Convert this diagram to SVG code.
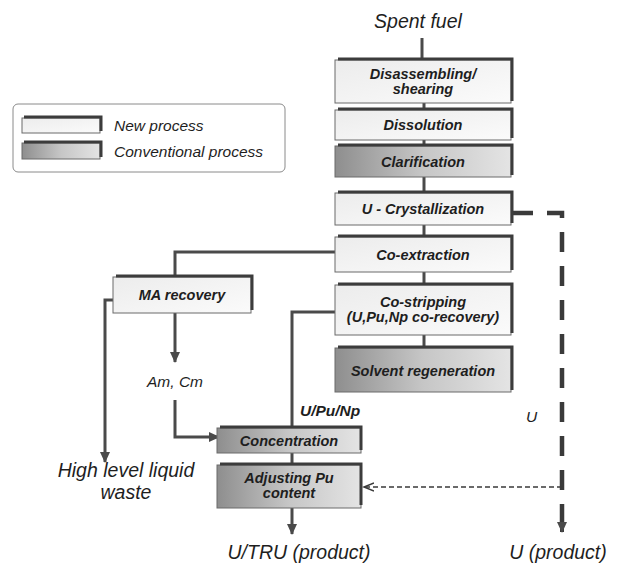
<svg xmlns="http://www.w3.org/2000/svg" width="623" height="566" viewBox="0 0 623 566">
<defs>
<style>
.box{stroke:#6a6a6a;stroke-width:1}
.new{fill:url(#gNew)}
.conv{fill:url(#gConv)}
.sh{fill:none;stroke:#3c3c3c;stroke-width:3}
.bt{font-family:"Liberation Sans",Arial,sans-serif;font-style:italic;font-weight:bold;font-size:14.5px;fill:#1e1e1e;text-anchor:middle}
.lt{font-family:"Liberation Sans",Arial,sans-serif;font-style:italic;font-size:19.5px;fill:#1e1e1e;text-anchor:middle}
.st{font-family:"Liberation Sans",Arial,sans-serif;font-style:italic;font-size:15.5px;fill:#1e1e1e}
.ln{fill:none;stroke:#4a4a4a;stroke-width:3}
.arr{marker-end:url(#ah)}
</style>
<linearGradient id="gNew" x1="0" y1="0" x2="1" y2="1">
<stop offset="0" stop-color="#ececec"/>
<stop offset="1" stop-color="#fbfbfb"/>
</linearGradient>
<linearGradient id="gConv" x1="0" y1="0" x2="1" y2="0">
<stop offset="0" stop-color="#8e8e8e"/>
<stop offset="0.5" stop-color="#c6c6c6"/>
<stop offset="1" stop-color="#e4e4e4"/>
</linearGradient>
<marker id="ah" markerWidth="12" markerHeight="12" refX="10" refY="6" orient="auto" markerUnits="userSpaceOnUse">
<path d="M0,1 L11,6 L0,11 Z" fill="#4a4a4a"/>
</marker>
<marker id="ah2" markerWidth="12" markerHeight="10" refX="10" refY="5" orient="auto" markerUnits="userSpaceOnUse">
<path d="M0,1 L10,5 L0,9" fill="none" stroke="#3a3a3a" stroke-width="1.5"/>
</marker>
</defs>
<rect width="623" height="566" fill="#ffffff"/>

<g id="legend">
<rect x="13" y="104" width="272" height="68" rx="5" fill="#ffffff" stroke="#8a8a8a" stroke-width="1"/>
<rect class="box new" x="22" y="118" width="78" height="15"/>
<path class="sh" d="M24,117 H101 V131"/>
<rect class="box conv" x="22" y="143" width="78" height="16"/>
<path class="sh" d="M24,142 H101 V157"/>
<text class="st" x="114" y="131" font-size="17">New process</text>
<text class="st" x="114" y="157" font-size="17">Conventional process</text>
</g>

<g id="connectors">
<path class="ln" d="M422,38 V58"/>
<path class="ln" d="M424,103 V110"/>
<path class="ln" d="M424,140 V146"/>
<path class="ln" d="M424,177 V193"/>
<path class="ln" d="M424,225 V237"/>
<path class="ln" d="M424,272 V285"/>
<path class="ln" d="M424,335 V348"/>
<path class="ln" d="M335,252 H175 V277"/>
<path class="ln arr" d="M175,313 V362"/>
<path class="ln arr" d="M175,400 V437 H219"/>
<path class="ln arr" d="M113,300 H105 V462"/>
<path class="ln" d="M335,312 H292 V428"/>
<path class="ln" d="M292,453 V465"/>
<path class="ln arr" d="M292,508 V534"/>
<path d="M513,213 H562 V522" fill="none" stroke="#3a3a3a" stroke-width="4.5" stroke-dasharray="20,14"/>
<path d="M562,512 V532" fill="none" stroke="#3a3a3a" stroke-width="4" marker-end="url(#ah)"/>
<path d="M562,487 H364" fill="none" stroke="#3a3a3a" stroke-width="1.5" stroke-dasharray="5,3" marker-end="url(#ah2)"/>
</g>

<g id="spent-fuel"><text class="lt" x="418" y="28" font-size="20">Spent fuel</text></g>

<g id="disassembling">
<rect class="box new" x="335" y="60" width="176" height="43"/>
<path class="sh" d="M338,59 H512 V101"/>
<text class="bt" x="423" y="79">Disassembling/</text>
<text class="bt" x="423" y="94">shearing</text>
</g>
<g id="dissolution">
<rect class="box new" x="335" y="110" width="176" height="30"/>
<path class="sh" d="M338,109 H512 V138"/>
<text class="bt" x="423" y="130">Dissolution</text>
</g>
<g id="clarification">
<rect class="box conv" x="335" y="146" width="176" height="31"/>
<path class="sh" d="M338,145 H512 V175"/>
<text class="bt" x="423" y="167">Clarification</text>
</g>
<g id="u-crystallization">
<rect class="box new" x="335" y="193" width="176" height="32"/>
<path class="sh" d="M338,192 H512 V223"/>
<text class="bt" x="423" y="214">U - Crystallization</text>
</g>
<g id="co-extraction">
<rect class="box new" x="335" y="237" width="176" height="35"/>
<path class="sh" d="M338,236 H512 V270"/>
<text class="bt" x="423" y="260">Co-extraction</text>
</g>
<g id="co-stripping">
<rect class="box new" x="335" y="285" width="176" height="50"/>
<path class="sh" d="M338,284 H512 V333"/>
<text class="bt" x="423" y="307">Co-stripping</text>
<text class="bt" x="423" y="322">(U,Pu,Np co-recovery)</text>
</g>
<g id="solvent-regeneration">
<rect class="box conv" x="335" y="348" width="176" height="44"/>
<path class="sh" d="M338,347 H512 V390"/>
<text class="bt" x="423" y="376">Solvent regeneration</text>
</g>
<g id="ma-recovery">
<rect class="box new" x="113" y="277" width="138" height="36"/>
<path class="sh" d="M116,276 H252 V310"/>
<text class="bt" x="182" y="300">MA recovery</text>
</g>
<g id="am-cm"><text class="st" x="175" y="387" text-anchor="middle">Am, Cm</text></g>
<g id="u-pu-np"><text class="st" x="300" y="416" font-weight="bold" font-size="14">U/Pu/Np</text></g>
<g id="concentration">
<rect class="box conv" x="217" y="428" width="144" height="25"/>
<path class="sh" d="M220,427 H361 V450"/>
<text class="bt" x="289" y="446">Concentration</text>
</g>
<g id="adjusting">
<rect class="box conv" x="217" y="465" width="144" height="43"/>
<path class="sh" d="M220,464 H361 V505"/>
<text class="bt" x="289" y="483">Adjusting Pu</text>
<text class="bt" x="289" y="498">content</text>
</g>
<g id="u-label"><text class="st" x="526" y="422" font-size="15">U</text></g>
<g id="hllw">
<text class="lt" x="126" y="477">High level liquid</text>
<text class="lt" x="126" y="499">waste</text>
</g>
<g id="utru"><text class="lt" x="299" y="559">U/TRU (product)</text></g>
<g id="uprod"><text class="lt" x="558" y="559">U (product)</text></g>
</svg>
